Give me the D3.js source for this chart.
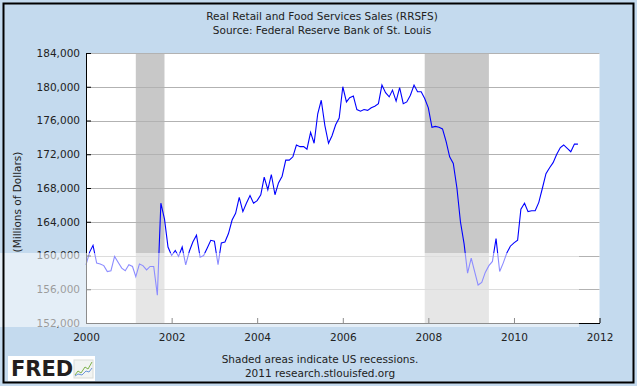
<!DOCTYPE html>
<html>
<head>
<meta charset="utf-8">
<script src="https://cdn.jsdelivr.net/npm/d3@7"></script>
<style>
  body { margin: 0; padding: 0; background: #fff; }
  svg text { font-family: "DejaVu Sans", Verdana, sans-serif; }
</style>
</head>
<body>
<div id="chart"></div>
<script>
// monthly RRSFS, Jan 2000 .. Jul 2011 (millions of dollars)
var startMonth = "2000-01";
var sales = [
  158900,160400,161200,159100,159000,158800,158100,158200,159900,159200,158500,158200,
  158900,158700,157500,159000,158800,158300,158700,158700,155300,166200,164300,161000,
  160000,160600,159900,161000,158900,160500,161600,162400,159800,160000,160900,161800,
  161700,158900,161500,161600,162600,164200,165000,166900,165200,166200,167100,166200,
  166500,167200,169300,167800,169600,167200,168600,169400,171300,171300,171700,173100,
  172900,172900,172600,174600,173300,176800,178400,175400,173300,174200,175500,176300,
  180000,178200,178700,178900,177300,177100,177300,177200,177500,177700,178000,180200,
  179300,178800,179600,178300,179900,178000,178200,179000,180200,179400,179400,178600,
  177500,175200,175300,175200,175000,173500,171700,170900,168000,164000,161400,157900,
  159700,158000,156500,156800,158000,158800,159300,162000,158100,159100,160300,161100,
  161500,161800,165500,166200,165200,165300,165300,166300,168000,169700,170400,171000,
  172000,172800,173100,172700,172300,173200,173200
];
var recessionStart = ["2001-03", "2007-12"];
var recessionEnd = ["2001-11", "2009-06"];
var yTicks = [152000,156000,160000,164000,168000,172000,176000,180000,184000];
var xTickYears = [2000,2002,2004,2006,2008,2010,2012];
var titleLines = ["Real Retail and Food Services Sales (RRSFS)", "Source: Federal Reserve Bank of St. Louis"];
var footLines = ["Shaded areas indicate US recessions.", "2011 research.stlouisfed.org"];

var W = 637, H = 386;
var plot = {left: 86, right: 599.5, top: 53, bottom: 323};
var parseMonth = d3.timeParse("%Y-%m");

var t0 = parseMonth(startMonth);
var series = sales.map(function(v, i) { return {date: d3.timeMonth.offset(t0, i), value: v}; });

var svg = d3.select("#chart").append("svg")
  .attr("width", W).attr("height", H);

// light blue background
svg.append("rect").attr("width", W).attr("height", H).attr("fill", "#C4DAEE");

var x = d3.scaleTime()
  .domain([new Date(2000, 0, 1), new Date(2012, 0, 1)])
  .range([plot.left, plot.right]);
var y = d3.scaleLinear()
  .domain([152000, 184000])
  .range([plot.bottom, plot.top]);

svg.append("rect")
  .attr("x", plot.left).attr("y", plot.top)
  .attr("width", plot.right - plot.left).attr("height", plot.bottom - plot.top)
  .attr("fill", "#fff");

// recession bars
svg.selectAll(".rec")
  .data(recessionStart.map(function(s, i) { return {s: parseMonth(s), e: parseMonth(recessionEnd[i])}; }))
  .enter().append("rect")
  .attr("class", "rec")
  .attr("x", function(d) { return x(d.s); })
  .attr("y", plot.top)
  .attr("width", function(d) { return x(d.e) - x(d.s); })
  .attr("height", plot.bottom - plot.top)
  .attr("fill", "#C8C8C8");

// horizontal grid
svg.selectAll(".grid")
  .data(yTicks.slice(1))
  .enter().append("line")
  .attr("class", "grid")
  .attr("x1", plot.left).attr("x2", plot.right)
  .attr("y1", function(d) { return Math.round(y(d)) + 0.5; })
  .attr("y2", function(d) { return Math.round(y(d)) + 0.5; })
  .attr("stroke", "#B2B2B2").attr("stroke-width", 1);

// the data line
var line = d3.line()
  .x(function(d) { return x(d.date); })
  .y(function(d) { return y(d.value); });
svg.append("path")
  .datum(series)
  .attr("d", line)
  .attr("fill", "none")
  .attr("stroke", "#0000FF")
  .attr("stroke-width", 1.1);

// axes, ticks point inward
var yAxis = d3.axisLeft(y)
  .tickValues(yTicks)
  .tickSizeInner(-5).tickSizeOuter(0).tickPadding(6)
  .tickFormat(d3.format(","));
svg.append("g")
  .attr("transform", "translate(" + plot.left + ",0)")
  .call(yAxis)
  .call(function(g) {
    g.selectAll("text").attr("font-size", "10.5px").attr("fill", "#222").attr("font-family", "DejaVu Sans, Verdana, sans-serif");
    g.selectAll("line,path").attr("stroke", "#000");
  });

var xAxis = d3.axisBottom(x)
  .tickValues(xTickYears.map(function(yr) { return new Date(yr, 0, 1); }))
  .tickSizeInner(-5).tickSizeOuter(0).tickPadding(11)
  .tickFormat(d3.timeFormat("%Y"));
svg.append("g")
  .attr("transform", "translate(0," + plot.bottom + ")")
  .call(xAxis)
  .call(function(g) {
    g.selectAll("text").attr("font-size", "10.5px").attr("fill", "#222").attr("font-family", "DejaVu Sans, Verdana, sans-serif");
    g.selectAll("line,path").attr("stroke", "#000");
  });

// y axis title
svg.append("text")
  .attr("transform", "translate(21,202) rotate(-90)")
  .attr("text-anchor", "middle")
  .attr("font-size", "10.5px").attr("fill", "#222")
  .text("(Millions of Dollars)");

// titles
svg.selectAll(".title")
  .data(titleLines)
  .enter().append("text")
  .attr("class", "title")
  .attr("x", 322).attr("y", function(d, i) { return 20 + i * 14; })
  .attr("text-anchor", "middle")
  .attr("font-size", "10.5px").attr("fill", "#222")
  .text(function(d) { return d; });

svg.selectAll(".foot")
  .data(footLines)
  .enter().append("text")
  .attr("class", "foot")
  .attr("x", 320).attr("y", function(d, i) { return 363 + i * 14; })
  .attr("text-anchor", "middle")
  .attr("font-size", "10.5px").attr("fill", "#222")
  .text(function(d) { return d; });

// FRED logo
var logo = svg.append("g");
logo.append("rect").attr("x", 8).attr("y", 356).attr("width", 87).attr("height", 25).attr("fill", "#fff");
logo.append("text").attr("x", 11).attr("y", 376)
  .attr("font-family", "Liberation Sans, Arial, sans-serif")
  .attr("font-weight", "bold").attr("font-size", "21px").attr("fill", "#231F20")
  .text("FRED");
logo.append("rect").attr("x", 74).attr("y", 360).attr("width", 19).attr("height", 18)
  .attr("fill", "#F2F4F2").attr("stroke", "#D8DCD8");
logo.append("path").attr("d", "M75,375 L78,371 L81,373 L85,367 L88,369 L92,362")
  .attr("fill", "none").attr("stroke", "#7DB24A").attr("stroke-width", 1);
logo.append("path").attr("d", "M75,376 L78,374 L82,375 L86,371 L89,372 L92,368")
  .attr("fill", "none").attr("stroke", "#6A96D8").attr("stroke-width", 1);

// translucent band across the lower part of the picture
svg.append("rect")
  .attr("x", 0).attr("y", 253).attr("width", 579).attr("height", 74)
  .attr("fill", "#fff").attr("opacity", 0.55);

// outer frame
svg.append("rect")
  .attr("x", 3.5).attr("y", 3.5).attr("width", 630).attr("height", 379)
  .attr("fill", "none").attr("stroke", "#000").attr("stroke-width", 2);
</script>
</body>
</html>
